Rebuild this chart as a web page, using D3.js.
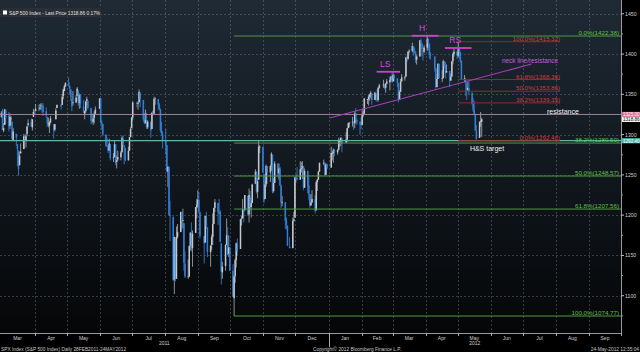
<!DOCTYPE html>
<html><head><meta charset="utf-8">
<script src="https://cdn.jsdelivr.net/npm/d3@7"></script>
<style>html,body{margin:0;padding:0;background:#000;}svg{display:block;}</style>
</head><body>
<svg id="chart" width="640" height="352"></svg>
<script>
// ---------- DATA (S&P 500 daily OHLC: [day, open, high, low, close]) ----------
const feb2011 = [[28,1322,1329,1321,1327]];
const mar2011 = [[1,1329,1332,1306,1306],[2,1305,1314,1303,1308],[3,1312,1332,1312,1331],[4,1331,1331,1313,1321],[7,1323,1328,1304,1310],[8,1311,1326,1307,1322],[9,1320,1323,1312,1320],[10,1316,1316,1294,1295],[11,1293,1308,1292,1304],[14,1301,1301,1286,1296],[15,1288,1288,1261,1282],[16,1279,1281,1249,1257],[17,1262,1279,1262,1274],[18,1277,1289,1276,1279],[21,1282,1301,1282,1298],[22,1298,1299,1293,1294],[23,1292,1301,1284,1298],[24,1301,1311,1298,1310],[25,1312,1319,1310,1314],[28,1315,1320,1310,1310],[29,1309,1319,1305,1319],[30,1322,1332,1322,1328],[31,1327,1330,1325,1326]];
const apr2011 = [[1,1329,1338,1329,1332],[4,1334,1337,1329,1333],[5,1332,1338,1330,1333],[6,1336,1339,1331,1336],[7,1335,1339,1327,1334],[8,1336,1339,1323,1328],[11,1329,1334,1321,1324],[12,1322,1322,1310,1314],[13,1314,1321,1309,1314],[14,1311,1317,1302,1315],[15,1315,1323,1314,1320],[18,1313,1313,1295,1305],[19,1306,1313,1304,1313],[20,1319,1333,1319,1330],[21,1333,1337,1333,1337],[25,1337,1338,1331,1335],[26,1337,1350,1337,1347],[27,1348,1357,1344,1356],[28,1354,1362,1354,1360],[29,1360,1365,1359,1364]];
const may2011 = [[2,1365,1371,1359,1361],[3,1360,1361,1350,1357],[4,1356,1356,1342,1347],[5,1344,1348,1329,1335],[6,1340,1354,1336,1340],[9,1340,1349,1339,1346],[10,1348,1359,1348,1357],[11,1355,1355,1336,1342],[12,1339,1351,1332,1349],[13,1349,1350,1333,1338],[16,1335,1343,1327,1329],[17,1326,1330,1319,1329],[18,1329,1342,1327,1341],[19,1342,1347,1336,1344],[20,1342,1342,1331,1333],[23,1333,1333,1313,1317],[24,1318,1324,1314,1316],[25,1316,1326,1312,1320],[26,1321,1329,1314,1326],[27,1326,1335,1326,1331],[31,1332,1345,1332,1345]];
const jun2011 = [[1,1345,1345,1314,1315],[2,1315,1318,1306,1313],[3,1313,1313,1298,1300],[6,1300,1300,1285,1286],[7,1286,1296,1285,1285],[8,1285,1287,1277,1280],[9,1280,1295,1280,1289],[10,1288,1288,1268,1271],[13,1271,1277,1266,1272],[14,1272,1293,1272,1288],[15,1288,1288,1262,1265],[16,1266,1274,1258,1268],[17,1269,1280,1267,1272],[20,1272,1280,1268,1278],[21,1278,1298,1278,1296],[22,1295,1299,1287,1287],[23,1287,1287,1263,1284],[24,1283,1284,1267,1268],[27,1268,1285,1268,1280],[28,1280,1297,1280,1297],[29,1297,1309,1297,1307],[30,1308,1322,1308,1321]];
const jul2011 = [[1,1321,1341,1318,1340],[5,1340,1341,1334,1338],[6,1338,1341,1331,1339],[7,1340,1356,1340,1353],[8,1352,1352,1334,1344],[11,1343,1343,1316,1319],[12,1320,1327,1313,1314],[13,1314,1331,1314,1318],[14,1318,1327,1307,1309],[15,1309,1318,1307,1316],[18,1316,1316,1296,1305],[19,1307,1328,1307,1327],[20,1329,1330,1324,1326],[21,1326,1347,1326,1344],[22,1344,1346,1337,1345],[25,1344,1344,1331,1337],[26,1337,1339,1330,1332],[27,1332,1332,1303,1305],[28,1305,1316,1299,1301],[29,1300,1304,1283,1292]];
const aug2011 = [[1,1293,1307,1275,1287],[2,1287,1287,1254,1254],[3,1254,1261,1235,1260],[4,1260,1260,1200,1200],[5,1200,1218,1168,1199],[8,1198,1198,1119,1119],[9,1120,1173,1102,1173],[10,1172,1172,1118,1121],[11,1121,1186,1121,1173],[12,1173,1189,1171,1179],[15,1179,1204,1179,1204],[16,1204,1204,1181,1193],[17,1193,1208,1184,1194],[18,1190,1190,1131,1141],[19,1140,1155,1122,1124],[22,1124,1145,1121,1124],[23,1124,1162,1123,1162],[24,1162,1179,1156,1178],[25,1177,1191,1155,1159],[26,1159,1181,1136,1177],[29,1178,1210,1178,1210],[30,1210,1220,1196,1213],[31,1213,1231,1209,1219]];
const sep2011 = [[1,1219,1229,1204,1204],[2,1204,1204,1171,1174],[6,1174,1174,1140,1165],[7,1166,1199,1166,1199],[8,1198,1204,1183,1186],[9,1185,1185,1148,1154],[12,1154,1163,1136,1162],[13,1163,1176,1157,1173],[14,1173,1202,1163,1189],[15,1189,1209,1189,1209],[16,1209,1220,1204,1216],[19,1215,1215,1188,1204],[20,1205,1220,1201,1202],[21,1204,1206,1166,1167],[22,1165,1165,1114,1130],[23,1129,1142,1121,1136],[26,1137,1164,1131,1163],[27,1163,1196,1163,1175],[28,1175,1185,1150,1151],[29,1152,1175,1148,1160],[30,1160,1160,1131,1131]];
const oct2011 = [[3,1131,1139,1099,1099],[4,1097,1125,1074.77,1124],[5,1124,1146,1116,1144],[6,1144,1166,1135,1165],[7,1165,1171,1150,1155],[10,1158,1195,1158,1195],[11,1195,1199,1187,1196],[12,1196,1220,1196,1207],[13,1207,1207,1191,1204],[14,1206,1225,1206,1225],[17,1224,1224,1199,1201],[18,1201,1233,1191,1225],[19,1223,1230,1206,1210],[20,1210,1219,1197,1215],[21,1215,1239,1215,1238],[24,1239,1257,1239,1254],[25,1254,1254,1227,1229],[26,1229,1246,1221,1242],[27,1244,1293,1244,1285],[28,1284,1287,1277,1285],[31,1285,1285,1253,1253]];
const nov2011 = [[1,1251,1251,1215,1218],[2,1220,1242,1220,1238],[3,1238,1263,1235,1261],[4,1261,1261,1239,1253],[7,1253,1262,1241,1261],[8,1261,1278,1255,1276],[9,1275,1275,1227,1229],[10,1230,1246,1228,1240],[11,1240,1267,1240,1264],[14,1264,1264,1247,1252],[15,1252,1264,1244,1258],[16,1258,1260,1236,1237],[17,1237,1238,1209,1216],[18,1216,1224,1211,1216],[21,1216,1216,1183,1193],[22,1193,1197,1182,1188],[23,1187,1187,1162,1162],[25,1161,1173,1159,1159],[28,1159,1197,1159,1193],[29,1193,1204,1192,1195],[30,1197,1247,1197,1247]];
const dec2011 = [[1,1247,1251,1240,1245],[2,1246,1260,1243,1244],[5,1244,1267,1244,1257],[6,1257,1266,1253,1258],[7,1258,1267,1245,1261],[8,1261,1261,1231,1234],[9,1234,1258,1234,1255],[12,1255,1255,1227,1236],[13,1237,1250,1219,1226],[14,1226,1226,1209,1212],[15,1212,1226,1212,1216],[16,1216,1231,1215,1220],[19,1220,1225,1202,1205],[20,1206,1243,1206,1241],[21,1241,1245,1230,1244],[22,1244,1255,1244,1254],[23,1254,1265,1254,1265],[27,1265,1269,1262,1265],[28,1265,1266,1249,1250],[29,1250,1264,1250,1263],[30,1263,1264,1257,1258]];
const jan2012 = [[3,1259,1285,1259,1277],[4,1277,1279,1268,1277],[5,1277,1283,1265,1281],[6,1281,1282,1273,1278],[9,1278,1282,1275,1281],[10,1281,1296,1281,1292],[11,1292,1294,1285,1292],[12,1292,1297,1286,1296],[13,1295,1295,1278,1289],[17,1290,1303,1290,1294],[18,1294,1308,1291,1308],[19,1308,1315,1308,1314],[20,1314,1315,1309,1315],[23,1315,1322,1310,1316],[24,1316,1316,1306,1315],[25,1314,1328,1308,1326],[26,1326,1333,1314,1318],[27,1318,1320,1312,1316],[30,1316,1316,1300,1313],[31,1314,1321,1307,1312]];
const feb2012 = [[1,1312,1331,1312,1324],[2,1324,1329,1322,1326],[3,1326,1345,1326,1345],[6,1344,1344,1338,1344],[7,1344,1349,1336,1347],[8,1347,1351,1342,1350],[9,1350,1354,1345,1352],[10,1351,1351,1337,1343],[13,1343,1353,1343,1352],[14,1351,1351,1341,1350],[15,1351,1356,1341,1343],[16,1343,1359,1341,1358],[17,1358,1363,1357,1361],[21,1361,1368,1358,1362],[22,1362,1363,1356,1358],[23,1358,1364,1352,1363],[24,1363,1369,1363,1366],[27,1365,1372,1355,1368],[28,1368,1373,1366,1372],[29,1372,1378,1364,1366]];
const mar2012 = [[1,1366,1376,1366,1374],[2,1374,1375,1366,1370],[5,1370,1370,1359,1364],[6,1364,1364,1340,1343],[7,1343,1355,1343,1353],[8,1353,1369,1353,1366],[9,1366,1375,1366,1371],[12,1371,1373,1367,1371],[13,1372,1396,1372,1396],[14,1396,1399,1390,1394],[15,1394,1403,1393,1403],[16,1403,1406,1401,1404],[19,1404,1414,1402,1410],[20,1410,1410,1398,1406],[21,1406,1408,1401,1403],[22,1403,1403,1389,1393],[23,1393,1399,1387,1397],[26,1397,1417,1397,1417],[27,1417,1419,1412,1413],[28,1413,1414,1397,1406],[29,1405,1405,1392,1403],[30,1403,1411,1401,1408]];
const apr2012 = [[2,1408,1422.38,1404,1419],[3,1419,1419,1405,1413],[4,1413,1413,1394,1399],[5,1399,1402,1393,1398],[9,1397,1397,1378,1382],[10,1382,1383,1357,1359],[11,1359,1375,1359,1369],[12,1369,1388,1369,1388],[13,1388,1388,1370,1370],[16,1370,1380,1365,1370],[17,1370,1393,1370,1391],[18,1391,1391,1383,1385],[19,1385,1390,1370,1377],[20,1377,1387,1377,1379],[23,1379,1379,1359,1367],[24,1367,1376,1367,1372],[25,1372,1391,1372,1391],[26,1391,1402,1387,1400],[27,1400,1407,1397,1403],[30,1403,1403,1394,1398]];
const may2012 = [[1,1398,1415.32,1396,1406],[2,1406,1406,1394,1402],[3,1402,1403,1389,1392],[4,1392,1392,1368,1369],[7,1369,1374,1365,1370],[8,1369,1369,1348,1364],[9,1363,1364,1343,1355],[10,1355,1366,1355,1358],[11,1358,1366,1349,1353],[14,1352,1352,1337,1338],[15,1338,1345,1328,1331],[16,1331,1342,1325,1325],[17,1325,1326,1305,1305],[18,1305,1312,1292,1295],[21,1296,1316,1296,1316],[22,1316,1328,1310,1317],[23,1316,1321,1297,1319]];

const monthBlocks = [[2011,1,feb2011],[2011,2,mar2011],[2011,3,apr2011],[2011,4,may2011],[2011,5,jun2011],[2011,6,jul2011],[2011,7,aug2011],[2011,8,sep2011],[2011,9,oct2011],[2011,10,nov2011],[2011,11,dec2011],[2012,0,jan2012],[2012,1,feb2012],[2012,2,mar2012],[2012,3,apr2012],[2012,4,may2012]];

const yTicks = [1100,1150,1200,1250,1300,1350,1400,1450];
const yMinorTicks = [1075,1125,1175,1225,1275,1325,1375,1425];
const monthNames = ["Mar","Apr","May","Jun","Jul","Aug","Sep","Oct","Nov","Dec","Jan","Feb","Mar","Apr","May","Jun","Jul","Aug","Sep"];
const yearLabels = [["2011","2011-01-01","2012-01-01"],["2012","2012-01-01","2012-10-01"]];

const fibGreen = [["0.0%(1422.38)",1422.38],["38.2%(1289.50)",1289.50],["50.0%(1248.57)",1248.57],["61.8%(1207.56)",1207.56],["100.0%(1074.77)",1074.77]];
const fibRed = [["100.0%(1415.32)",1415.32],["61.8%(1368.36)",1368.36],["50.0%(1353.86)",1353.86],["38.2%(1339.35)",1339.35],["0.0%(1292.40)",1292.40]];
const resistanceLevel = 1325;
const targetLevel = 1292.4;
const neckline = [["2012-01-02",1320.6],["2012-07-09",1387.6]];
const shoulders = [["LS","2012-02-15","2012-03-08",1378],["H","2012-03-19","2012-04-13",1422.7],["RS","2012-04-19","2012-05-14",1407.5]];
const lastPrice = 1318.86, lastChange = "0.17%";

// ---------- CHART ----------
const W = 640, H = 352, plotR = 621, plotB = 333;
const svg = d3.select("#chart");
const parse = d3.timeParse("%Y-%m-%d");
const x = d3.scaleTime().domain([new Date(2011,1,27,4), new Date(2012,9,1)]).range([0, plotR]);
const y = d3.scaleLinear().domain([1053.7, 1467.1]).range([plotB, 0]);
const font = "'Liberation Sans', Arial, sans-serif";

const rows = [];
monthBlocks.forEach(([yr, mo, arr]) => arr.forEach(r => rows.push({d:new Date(yr,mo,r[0],12), o:r[1], h:r[2], l:r[3], c:r[4]})));

svg.append("rect").attr("width",W).attr("height",H).attr("fill","#000");
const defs = svg.append("defs");
const grad = defs.append("linearGradient").attr("id","bg").attr("x1",0).attr("y1",0).attr("x2",0).attr("y2",1);
grad.append("stop").attr("offset","0%").attr("stop-color","#1f2a35");
grad.append("stop").attr("offset","55%").attr("stop-color","#10161c");
grad.append("stop").attr("offset","100%").attr("stop-color","#050607");
defs.append("clipPath").attr("id","clip").append("rect").attr("width",plotR).attr("height",plotB);
svg.append("rect").attr("width",plotR).attr("height",plotB).attr("fill","url(#bg)");

// grid
const monthStarts = d3.timeMonth.range(new Date(2011,2,1), new Date(2012,9,2));
const grid = svg.append("g").attr("clip-path","url(#clip)");
grid.selectAll(".hg").data(yTicks).join("line")
  .attr("x1",0).attr("x2",plotR).attr("y1",d=>Math.round(y(d))+0.5).attr("y2",d=>Math.round(y(d))+0.5)
  .attr("stroke","#6b747d").attr("stroke-width",0.8).attr("stroke-dasharray","2,2").attr("opacity",0.6);
grid.selectAll(".vg").data(monthStarts.slice(1)).join("line")
  .attr("y1",0).attr("y2",plotB).attr("x1",d=>Math.round(x(d))+0.5).attr("x2",d=>Math.round(x(d))+0.5)
  .attr("stroke","#6b747d").attr("stroke-width",0.8).attr("stroke-dasharray","2,2").attr("opacity",0.6);

// candles
const cg = svg.append("g").attr("clip-path","url(#clip)");
const up = "#c4c8cc", dn = "#2d7fdb";
cg.selectAll(".wick").data(rows).join("line")
  .attr("x1",d=>x(d.d)).attr("x2",d=>x(d.d)).attr("y1",d=>y(d.h)).attr("y2",d=>y(d.l))
  .attr("stroke",d=>d.c>=d.o?"#aeb2b7":"#3b86d8").attr("stroke-width",0.8);
cg.selectAll(".body").data(rows).join("rect")
  .attr("x",d=>x(d.d)-0.75).attr("width",1.5)
  .attr("y",d=>y(Math.max(d.o,d.c))).attr("height",d=>Math.max(0.8, Math.abs(y(d.o)-y(d.c))))
  .attr("fill",d=>d.c>=d.o?up:dn);

// annotation lines
const ann = svg.append("g").attr("clip-path","url(#clip)");
const gStart = x(new Date(2011,9,4,12));
ann.selectAll(".fg").data(fibGreen).join("line")
  .attr("x1",gStart).attr("x2",plotR).attr("y1",d=>y(d[1])).attr("y2",d=>y(d[1]))
  .attr("stroke","#4f9a3e").attr("stroke-width",1);
ann.append("line").attr("x1",0).attr("x2",plotR).attr("y1",y(resistanceLevel)).attr("y2",y(resistanceLevel))
  .attr("stroke","#a790a6").attr("stroke-width",0.9);
ann.append("line").attr("x1",0).attr("x2",plotR).attr("y1",y(targetLevel)).attr("y2",y(targetLevel))
  .attr("stroke","#68b3a6").attr("stroke-width",1.3);
const rStart = x(new Date(2012,4,1,12)), rEnd = 560;
ann.selectAll(".fr").data(fibRed).join("line")
  .attr("x1",rStart).attr("x2",rEnd).attr("y1",d=>y(d[1])).attr("y2",d=>y(d[1]))
  .attr("stroke","#8e2c2c").attr("stroke-width",1);
ann.append("line")
  .attr("x1",x(parse(neckline[0][0]))).attr("y1",y(neckline[0][1]))
  .attr("x2",x(parse(neckline[1][0]))).attr("y2",y(neckline[1][1]))
  .attr("stroke","#a640b8").attr("stroke-width",1.2);
ann.selectAll(".sh").data(shoulders).join("line")
  .attr("x1",d=>x(parse(d[1]))).attr("x2",d=>x(parse(d[2]))).attr("y1",d=>y(d[3])).attr("y2",d=>y(d[3]))
  .attr("stroke","#d03ed6").attr("stroke-width",1.8);
ann.selectAll(".sht").data(shoulders).join("text")
  .attr("x",d=>(x(parse(d[1]))+x(parse(d[2])))/2-3).attr("y",d=>y(d[3])-5)
  .attr("text-anchor","middle").attr("fill","#d84ad8").attr("font-family",font).attr("font-size",8.5).text(d=>d[0]);

// labels
ann.selectAll(".fgt").data(fibGreen).join("text")
  .attr("x",619).attr("y",d=>y(d[1])-1).attr("text-anchor","end")
  .attr("fill","#5cc244").attr("font-family",font).attr("font-size",6.2).text(d=>d[0]);
ann.selectAll(".frt").data(fibRed).join("text")
  .attr("x",rEnd).attr("y",d=>y(d[1])-1).attr("text-anchor","end")
  .attr("fill","#cc3d3d").attr("font-family",font).attr("font-size",6.2).text(d=>d[0]);
ann.append("text").attr("x",547).attr("y",y(resistanceLevel)-0.5).attr("fill","#f0f0f0")
  .attr("font-family",font).attr("font-size",7).text("resistance");
ann.append("text").attr("x",487).attr("y",151).attr("text-anchor","middle").attr("fill","#f0f0f0")
  .attr("font-family",font).attr("font-size",7).text("H&S target");
ann.append("text").attr("x",530).attr("y",63).attr("text-anchor","middle").attr("fill","#c060d8")
  .attr("font-family",font).attr("font-size",6.4).text("neck line/resistance");

// legend
svg.append("rect").attr("x",1).attr("y",8).attr("width",100).attr("height",9).attr("fill","#2a2f35");
svg.append("rect").attr("x",3).attr("y",10.5).attr("width",4).attr("height",4).attr("fill","#fff");
svg.append("text").attr("x",9).attr("y",14.5).attr("fill","#e0e0e0").attr("font-family",font).attr("font-size",4.8)
  .text("S&P 500 Index - Last Price   " + lastPrice.toFixed(2) + "   " + lastChange);

// right axis
const ra = svg.append("g");
ra.append("line").attr("x1",plotR+0.5).attr("x2",plotR+0.5).attr("y1",0).attr("y2",plotB).attr("stroke","#9a9a9a");
ra.selectAll(".mt").data(yTicks).join("line").attr("x1",plotR).attr("x2",plotR+3)
  .attr("y1",d=>y(d)).attr("y2",d=>y(d)).attr("stroke","#bbb");
ra.selectAll(".nt").data(yMinorTicks).join("line").attr("x1",plotR).attr("x2",plotR+2)
  .attr("y1",d=>y(d)).attr("y2",d=>y(d)).attr("stroke","#999");
ra.selectAll(".tl").data(yTicks).join("text").attr("x",plotR+4).attr("y",d=>y(d)+2)
  .attr("fill","#d0d0d0").attr("font-family",font).attr("font-size",5.2).text(d=>d);
const boxes = [[resistanceLevel,"#d46a8f","#fff",(1325).toFixed(2)],[lastPrice,"#f2f2f2","#111",lastPrice.toFixed(2)],[targetLevel,"#4fb3ae","#fff",targetLevel.toFixed(2)]];
boxes.forEach(([v,bg,fg,t])=>{
  ra.append("rect").attr("x",plotR+1).attr("y",y(v)-2.6).attr("width",18).attr("height",5.2).attr("fill",bg);
  ra.append("text").attr("x",plotR+2).attr("y",y(v)+1.8).attr("fill",fg).attr("font-family",font).attr("font-size",4.6).text(t);
});

// bottom axis
const ba = svg.append("g");
ba.append("line").attr("x1",0).attr("x2",plotR).attr("y1",plotB+0.5).attr("y2",plotB+0.5).attr("stroke","#9a9a9a");
ba.selectAll(".bt").data(monthStarts.slice(1)).join("line")
  .attr("x1",d=>Math.round(x(d))+0.5).attr("x2",d=>Math.round(x(d))+0.5)
  .attr("y1",plotB).attr("y2",d=>(d.getMonth()===0)?347:336).attr("stroke","#aaa");
const bounds = [new Date(2011,1,27,4)].concat(monthStarts.slice(1));
ba.selectAll(".ml").data(monthNames).join("text")
  .attr("x",(d,i)=>(x(bounds[i])+x(bounds[i+1]))/2).attr("y",339.5).attr("text-anchor","middle")
  .attr("fill","#cfcfcf").attr("font-family",font).attr("font-size",5).text(d=>d);
ba.selectAll(".yl").data(yearLabels).join("text")
  .attr("x",d=>(Math.max(0,x(parse(d[1])))+Math.min(plotR,x(parse(d[2]))))/2).attr("y",345)
  .attr("text-anchor","middle").attr("fill","#cfcfcf").attr("font-family",font).attr("font-size",5).text(d=>d[0]);

// footer
const ft = svg.append("g").attr("font-family",font).attr("font-size",4.8).attr("fill","#c8c8c8");
ft.append("text").attr("x",1).attr("y",351).text("SPX Index (S&P 500 Index) Daily 28FEB2011-24MAY2012");
ft.append("text").attr("x",313).attr("y",351).text("Copyright\u00a9 2012 Bloomberg Finance L.P.");
ft.append("text").attr("x",639).attr("y",351).attr("text-anchor","end").text("24-May-2012 12:35:04");
</script>
</body></html>
